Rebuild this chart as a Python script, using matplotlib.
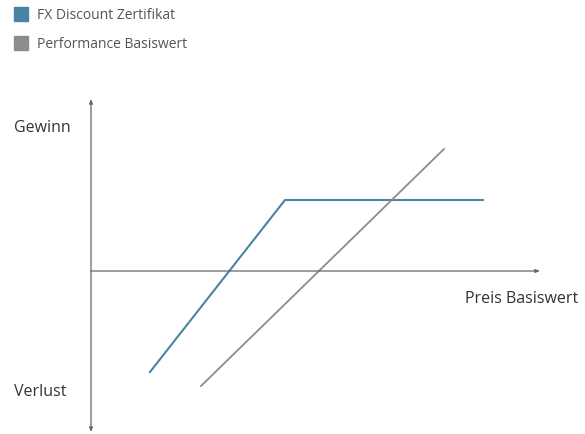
import matplotlib
matplotlib.use("Agg")
import matplotlib.pyplot as plt
from matplotlib.patches import Rectangle

# Data (units relative to axis origin)
series_names = ["FX Discount Zertifikat", "Performance Basiswert"]
discount_x = [59, 194, 392]
discount_y = [-101, 71, 71]
basis_x = [110, 353]
basis_y = [-115, 122]
axis_labels = {"gain": "Gewinn", "loss": "Verlust", "price": "Preis Basiswert"}

BLUE = "#4a83a3"
GRAY = "#8c8c8c"
AXC = "#666666"

plt.rcParams['font.family'] = ['Open Sans', 'DejaVu Sans']

fig = plt.figure(figsize=(5.85, 4.35), dpi=100)
ax = fig.add_axes([0, 0, 1, 1])
ax.set_xlim(-91, 494)
ax.set_ylim(-163, 272)
ax.axis("off")

style = "-|>,head_length=0.25,head_width=0.1"
for end in [(0, 172), (0, -161), (449, 0)]:
    ax.annotate("", xy=end, xytext=(0, 0),
                arrowprops=dict(arrowstyle=style, color=AXC, lw=0.9, shrinkA=0, shrinkB=0))

ax.plot(discount_x, discount_y, color=BLUE, lw=1.5, solid_joinstyle="miter")
ax.plot(basis_x, basis_y, color=GRAY, lw=1.3)

ax.text(-77, 144, axis_labels["gain"], fontsize=11.5, color="#333333", va="center", ha="left")
ax.text(-77, -120, axis_labels["loss"], fontsize=11.5, color="#333333", va="center", ha="left")
ax.text(487, -27, axis_labels["price"], fontsize=11.5, color="#333333", va="center", ha="right")

# legend
for i, (name, col) in enumerate(zip(series_names, [BLUE, GRAY])):
    ytop = 8 + i * 29
    fig.patches.append(Rectangle((14 / 585, 1 - (ytop + 14) / 435), 14 / 585, 14 / 435,
                                 transform=fig.transFigure, color=col))
    fig.text(37 / 585, 1 - (ytop + 7.5) / 435, name, fontsize=10, color="#555555", va="center", ha="left")

fig.savefig("out.png", dpi=100)
